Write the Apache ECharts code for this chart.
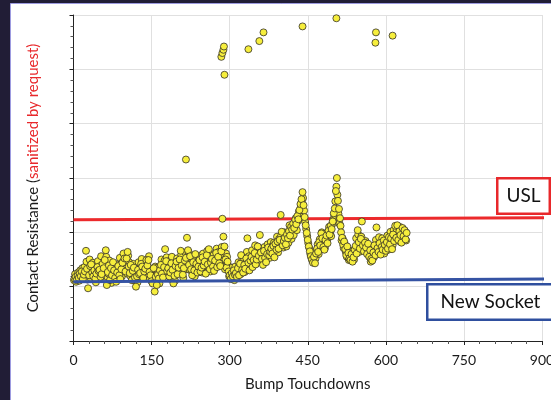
<!DOCTYPE html>
<html>
<head>
<meta charset="utf-8">
<script src="https://cdn.jsdelivr.net/npm/echarts@6/dist/echarts.min.js"></script>
<style>
  html, body { margin: 0; padding: 0; background: #211d36; }
  #chart { width: 551px; height: 400px; }
</style>
</head>
<body>
<div id="chart"></div>
<script>
// x ticks
const xTicks = [0, 150, 300, 450, 600, 750, 900]
// band readings at even touchdowns (x = 2, 4, ... 640)
const bandEven = [
  11.5, 11.8, 11.2, 12.0, 11.6, 12.4, 11.9, 12.8, 11.4, 12.2,
  12.8, 16.6, 13.3, 9.7, 12.1, 13.8, 14.1, 12.6, 11.9, 13.0,
  11.5, 12.4, 13.6, 12.9, 13.1, 11.8, 12.3, 14.2, 13.4, 14.9,
  16.7, 10.3, 12.7, 13.9, 11.2, 13.4, 12.1, 14.5, 13.0, 11.6,
  10.9, 12.6, 13.8, 12.1, 11.4, 13.2, 14.4, 16.1, 15.2, 12.8,
  15.2, 16.4, 13.7, 12.5, 14.0, 11.2, 12.9, 13.5, 11.7, 10.0,
  11.9, 13.1, 12.3, 12.5, 14.2, 13.7, 11.6, 12.8, 13.3, 14.9,
  13.9, 14.9, 12.7, 12.1, 11.0, 10.6, 13.4, 9.1, 11.8, 10.3,
  12.2, 11.5, 13.0, 14.0, 12.4, 11.7, 13.6, 16.9, 14.7, 12.9,
  13.4, 11.9, 12.6, 14.3, 13.1, 10.6, 12.0, 13.8, 14.6, 12.3,
  13.5, 15.0, 16.6, 13.9, 12.2, 13.4, 14.8, 15.3, 19.0, 16.7,
  14.0, 15.6, 13.2, 12.1, 14.5, 13.0, 16.0, 14.2, 12.6, 13.7,
  14.9, 12.8, 13.5, 15.4, 13.9, 14.6, 12.4, 15.8, 14.1, 16.9,
  13.2, 14.4, 15.1, 13.7, 12.9, 14.8, 16.2, 13.6, 15.5, 14.3,
  13.8, 16.5, 22.5, 19.2, 17.4, 15.0, 13.5, 14.6, 12.8, 12.1,
  11.4, 12.5, 11.9, 13.0, 12.2, 12.5, 11.8, 13.4, 12.1, 14.2,
  15.8, 13.1, 12.6, 14.0, 13.3, 15.2, 18.9, 14.4, 13.0, 14.8,
  15.5, 13.6, 14.9, 16.2, 14.1, 15.0, 17.4, 15.7, 19.5, 16.3,
  15.1, 14.0, 16.6, 15.3, 14.5, 16.0, 17.2, 15.8, 16.4, 17.0,
  16.1, 17.5, 15.4, 17.9, 16.8, 18.3, 17.0, 18.6, 23.2, 20.1,
  17.6, 18.4, 19.0, 17.8, 19.6, 18.9, 20.2, 19.4, 21.0, 20.5,
  21.6, 20.8, 22.3, 21.5, 23.0, 22.4, 24.1, 25.2, 26.1, 27.4,
  25.0, 22.8, 21.3, 19.9, 18.6, 17.4, 16.5, 15.6, 15.0, 14.4,
  15.5, 14.3, 16.1, 17.0, 16.4, 18.2, 17.6, 19.8, 18.9, 17.3,
  16.8, 18.6, 19.4, 18.0, 20.3, 19.6, 21.2, 20.6, 22.0, 23.5,
  24.4, 27.6, 30.0, 25.8, 24.3, 22.6, 20.0, 19.0, 17.7, 18.3,
  16.9, 15.8, 17.4, 16.2, 15.2, 14.9, 16.0, 14.6, 15.4, 16.8,
  17.5, 16.1, 20.4, 18.2, 17.0, 18.8, 22.0, 17.6, 16.5, 18.1,
  17.2, 16.0, 17.9, 15.5, 16.7, 15.1, 14.8, 16.3, 17.6, 15.8,
  20.9, 17.1, 16.4, 18.0, 15.9, 17.3, 16.8, 18.5, 17.7, 16.6,
  18.2, 17.0, 19.1, 17.8, 18.9, 16.9, 19.6, 18.4, 21.2, 19.0,
  21.3, 18.6, 20.2, 19.5, 18.1, 20.8, 19.3, 20.4, 18.7, 19.9
]
// band readings at odd touchdowns (x = 1, 3, ... 639)
const bandOdd = [
  11.2, 12.3, 10.9, 11.7, 12.6, 11.1, 13.0, 12.2, 13.4, 11.8,
  13.6, 12.0, 14.6, 11.3, 12.9, 15.0, 11.6, 13.5, 14.4, 12.2,
  13.9, 10.8, 12.1, 14.7, 12.5, 13.8, 15.6, 11.9, 12.8, 13.2,
  14.2, 15.5, 11.8, 12.4, 14.8, 12.9, 10.7, 13.7, 12.6, 14.0,
  12.3, 14.1, 11.5, 13.3, 15.3, 12.7, 11.9, 14.6, 13.5, 14.9,
  13.8, 12.4, 15.7, 14.5, 12.0, 13.6, 11.3, 14.2, 12.7, 11.1,
  13.2, 10.8, 14.5, 11.9, 13.0, 15.1, 12.4, 14.0, 11.7, 13.6,
  12.3, 13.4, 15.6, 11.5, 13.1, 12.4, 10.9, 12.0, 13.7, 11.2,
  13.5, 12.8, 10.6, 12.6, 15.0, 13.3, 11.9, 14.8, 12.5, 15.4,
  12.1, 14.7, 13.9, 11.4, 15.5, 12.7, 13.5, 11.1, 12.9, 15.2,
  14.4, 12.6, 13.8, 15.9, 14.7, 11.6, 13.1, 16.3, 14.2, 15.6,
  16.4, 13.1, 14.6, 12.9, 15.2, 13.8, 11.9, 15.1, 13.4, 14.8,
  13.3, 15.7, 14.0, 12.6, 16.1, 14.4, 13.1, 15.0, 16.6, 13.5,
  15.3, 12.8, 16.0, 14.9, 15.8, 13.4, 15.0, 17.0, 14.1, 16.4,
  15.1, 14.2, 17.3, 16.0, 14.9, 13.2, 16.1, 15.5, 13.9, 11.9,
  12.8, 11.6, 13.5, 12.4, 11.2, 13.7, 12.0, 12.9, 14.5, 13.1,
  12.3, 14.6, 13.8, 15.3, 12.7, 14.1, 16.4, 13.5, 15.6, 14.2,
  13.9, 16.7, 15.2, 14.4, 17.6, 14.8, 16.1, 15.4, 17.1, 14.9,
  16.8, 15.6, 14.7, 17.3, 16.2, 15.0, 17.8, 16.5, 15.3, 18.2,
  17.4, 15.9, 18.1, 16.6, 17.7, 19.2, 16.3, 18.8, 17.5, 19.4,
  18.7, 17.2, 20.0, 18.5, 17.4, 19.9, 18.1, 21.3, 19.7, 18.8,
  20.9, 19.5, 21.9, 22.6, 20.4, 22.1, 23.8, 22.9, 24.8, 25.9,
  26.3, 24.0, 21.9, 20.6, 19.3, 18.0, 17.1, 16.0, 15.3, 14.8,
  14.6, 15.9, 15.2, 16.7, 17.8, 16.0, 18.7, 17.1, 20.0, 18.4,
  17.9, 17.1, 19.8, 18.8, 19.0, 21.0, 20.1, 19.3, 21.5, 22.4,
  23.2, 25.7, 28.4, 26.9, 23.4, 21.6, 21.2, 18.5, 18.9, 17.1,
  17.9, 16.4, 15.5, 17.0, 14.9, 15.9, 15.3, 15.8, 16.6, 15.0,
  16.2, 18.9, 17.3, 19.6, 16.4, 17.9, 19.2, 18.3, 16.9, 17.0,
  18.4, 17.5, 16.2, 16.8, 15.6, 14.6, 15.9, 17.1, 15.4, 16.9,
  18.6, 16.1, 17.8, 19.1, 17.2, 16.5, 18.9, 17.4, 16.1, 18.1,
  17.5, 19.4, 16.8, 18.5, 20.1, 18.0, 17.6, 20.4, 18.8, 19.7,
  20.5, 19.2, 18.4, 21.0, 19.8, 18.9, 20.6, 19.1, 20.1, 18.5
]
// high readings
const outlierX = [216, 284, 286, 288, 289, 290, 336, 357, 365, 440, 505, 580, 581, 613]
const outlierY = [33.4, 52.3, 53.0, 53.6, 54.2, 49.0, 53.7, 55.2, 56.8, 57.9, 59.4, 54.9, 56.8, 56.2]
// reference lines (start, end)
const uslLine = [[0, 22.3], [913, 22.7]]
const socketLine = [[0, 10.9], [913, 11.4]]

const points = bandOdd.map((v, i) => [i * 2 + 1, v])
  .concat(bandEven.map((v, i) => [i * 2 + 2, v]))
  .concat(outlierX.map((x, i) => [x, outlierY[i]]))

const font = 'Lato'
const chart = echarts.init(document.getElementById('chart'))
chart.setOption({
  animation: false,
  backgroundColor: '#211d36',
  textStyle: { fontFamily: font },
  grid: { left: 73.5, right: 9, top: 15, bottom: 59, outerBoundsMode: 'none' },
  graphic: [
    {
      type: 'rect', z: -10, silent: true,
      shape: { x: 10.5, y: 3.5, width: 560, height: 420 },
      style: { fill: '#ffffff', stroke: '#9d9be0', lineWidth: 1 }
    },
    {
      type: 'text', z: 100, left: 496, top: 177,
      style: {
        text: 'USL', font: '19px ' + font, fill: '#111',
        backgroundColor: '#fff', borderColor: '#e8282b', borderWidth: 2.5,
        padding: [7, 8, 7, 8]
      }
    },
    {
      type: 'text', z: 100, left: 426, top: 283,
      style: {
        text: 'New Socket', font: '19px ' + font, fill: '#111',
        backgroundColor: '#fff', borderColor: '#2f4f9e', borderWidth: 2.5,
        padding: [7, 12, 7, 12]
      }
    }
  ],
  xAxis: {
    type: 'value', min: xTicks[0], max: xTicks[xTicks.length - 1], interval: 150,
    name: 'Bump Touchdowns', nameLocation: 'middle', nameGap: 36,
    nameTextStyle: { fontSize: 15, color: '#1a1a1a' },
    axisLine: { lineStyle: { color: '#222', width: 1 } },
    axisTick: { show: true, length: 4, lineStyle: { color: '#222' } },
    minorTick: { show: true, splitNumber: 5, length: 3, lineStyle: { color: '#555' } },
    axisLabel: { fontSize: 14, color: '#1a1a1a', margin: 12 },
    splitLine: { show: true, lineStyle: { color: '#e0e0e0' } }
  },
  yAxis: {
    type: 'value', min: 0, max: 60, interval: 10,
    name: '{a|Contact Resistance (}{b|sanitized by request)}',
    nameLocation: 'middle', nameGap: 33,
    nameTextStyle: {
      fontSize: 15,
      rich: {
        a: { fontSize: 15, color: '#1a1a1a', fontFamily: font },
        b: { fontSize: 15, color: '#e8282b', fontFamily: font }
      }
    },
    axisLine: { show: true, lineStyle: { color: '#222', width: 1 } },
    axisTick: { show: true, length: 4, lineStyle: { color: '#222' } },
    minorTick: { show: true, splitNumber: 5, length: 3, lineStyle: { color: '#555' } },
    axisLabel: { show: false },
    splitLine: { show: true, lineStyle: { color: '#e0e0e0' } }
  },
  series: [
    {
      type: 'line', data: uslLine, clip: false, symbol: 'none', silent: true, z: 1,
      lineStyle: { color: '#ec2a2c', width: 3 }
    },
    {
      type: 'scatter', data: points, symbolSize: 7, z: 3,
      itemStyle: { color: '#f6ee3c', borderColor: '#333026', borderWidth: 0.8, opacity: 1 }
    },
    {
      type: 'line', data: socketLine, clip: false, symbol: 'none', silent: true, z: 4,
      lineStyle: { color: '#3553a3', width: 3 }
    }
  ]
})
</script>
</body>
</html>
